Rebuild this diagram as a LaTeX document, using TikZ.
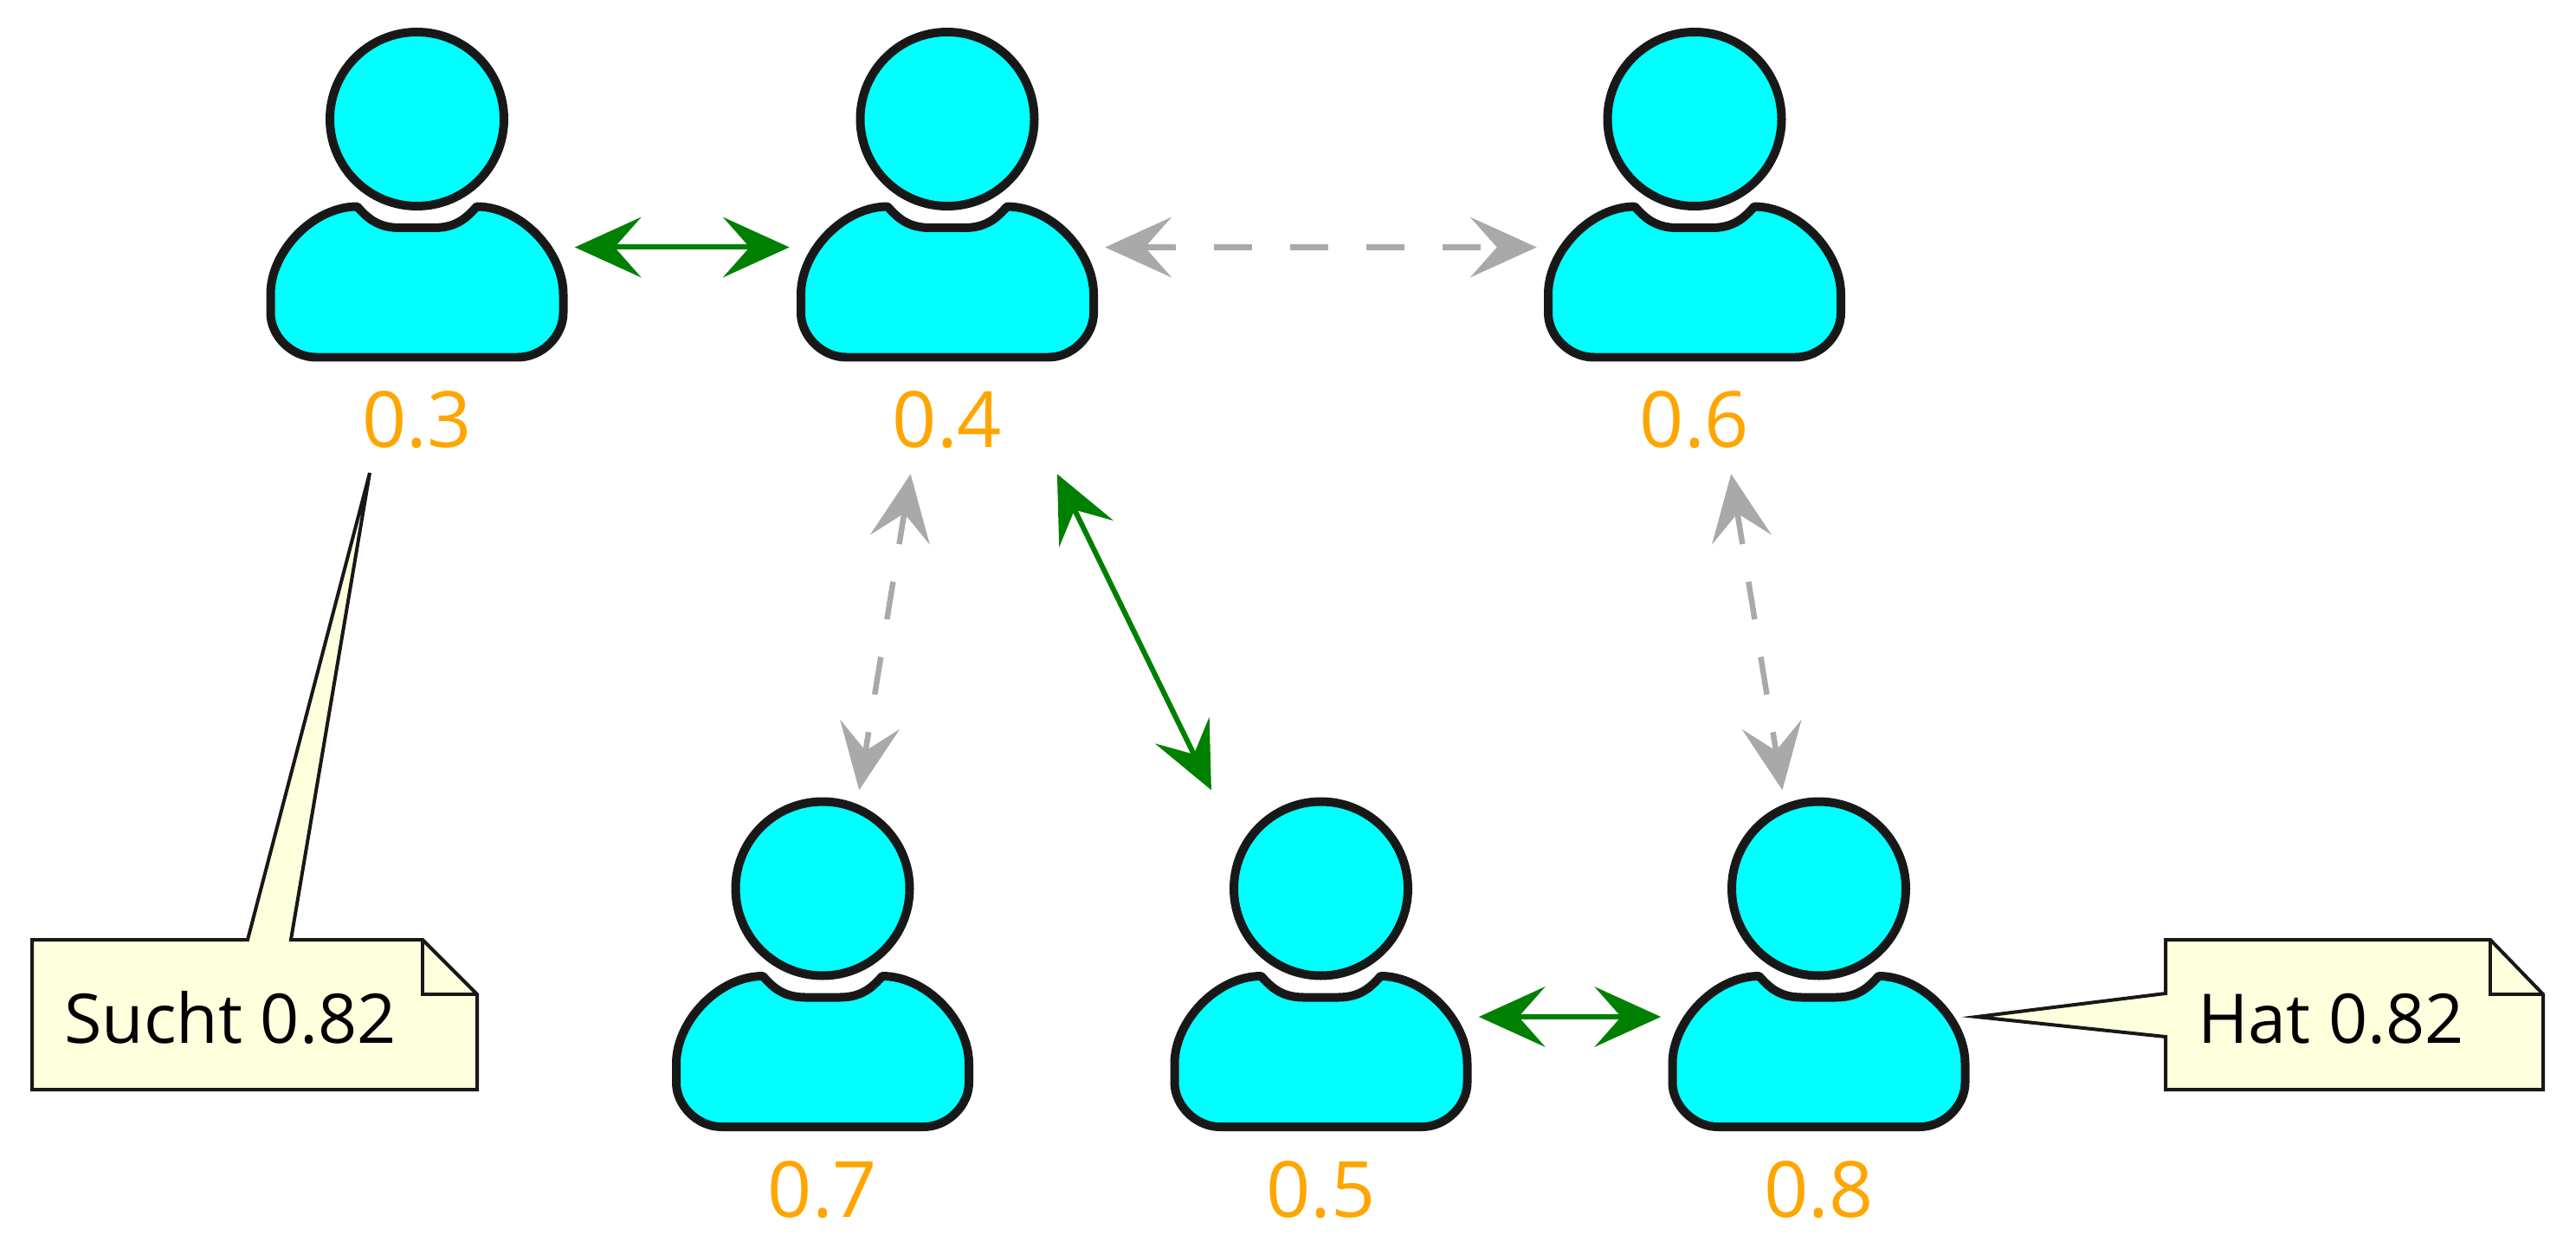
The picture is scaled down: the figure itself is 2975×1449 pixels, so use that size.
\documentclass[tikz,border=0pt]{standalone}
\usepackage{fontspec}
\setmainfont{Open Sans}
\usetikzlibrary{arrows.meta}
\definecolor{Ink}{HTML}{181818}
\definecolor{Skin}{HTML}{00FFFF}
\definecolor{Paper}{HTML}{FEFFDD}
\definecolor{Score}{HTML}{FFA500}
\definecolor{Link}{HTML}{008000}
\definecolor{Weak}{HTML}{A9A9A9}
\begin{document}
\begin{tikzpicture}[x=0.02cm,y=-0.02cm]
	\tikzstyle{Filling} = [fill=Skin,draw=Ink,line width=0.2cm,line join=round]
	\tikzstyle{Slot} = [inner sep=0pt,minimum width=7.28cm,minimum height=10.46cm]
	\tikzstyle{Value} = [text=Score,font=\fontsize{51}{51}\selectfont,anchor=base,inner sep=0pt]
	\tikzstyle{Tips} = [{Stealth[length=1.54cm,width=1.4cm,inset=0.62cm,line width=0pt]}-{Stealth[length=1.54cm,width=1.4cm,inset=0.62cm,line width=0pt]}]
	\tikzstyle{Strong} = [Tips,draw=Link,line width=0.12cm]
	\tikzstyle{Faint} = [Tips,draw=Weak,line width=0.13cm,dash pattern=on 0.88cm off 0.88cm,dash phase=0.16cm]
	\tikzstyle{Note} = [fill=Paper,draw=Ink,line width=0.08cm,line join=miter]
	\tikzstyle{NoteText} = [text=black,font=\fontsize{45}{45}\selectfont,anchor=base west,inner sep=0pt]
	\useasboundingbox (0,0) rectangle (2975,1449);
	\foreach \who/\cx/\cy/\val in {u3/481.5/285.5/0.3,u4/1094/285.5/0.4,u6/1957/285.5/0.6,u7/950/1174/0.7,u5/1525.5/1174/0.5,u8/2100.5/1174/0.8}{
		\node[Slot] (\who) at (\cx,\cy) {};
		\begin{scope}[shift={(\cx,\cy)}]
			\filldraw[Filling] (0,-148) circle (100.5);
			\filldraw[Filling] (-69,-47)..controls(-59,-36)
			and(-47,-22.5)..(-20,-22.5)--(20,-22.5)..controls(47,-22.5)
			and(59,-36)..(69,-47)..controls(120,-47)
			and(169,5)..(169,54)--(169,76)..controls(169,102)
			and(145,127)..(116.5,127)--(-116.5,127)..controls(-145,127)
			and(-169,102)..(-169,76)--(-169,54)..controls(-169,5)
			and(-120,-47)..(-69,-47)--cycle;
			\node[Value] (s\who) at (0,231) {\val};
		\end{scope}
	}
	\draw[Strong] (u3)--(u4);
	\draw[Faint] (u4)--(u6);
	\draw[Faint] (u4)--(u7);
	\draw[Strong] (u4)--(u5);
	\draw[Faint] (u6)--(u8);
	\draw[Strong] (u5)--(u8);
	\coordinate (t3) at (427,546);
	\coordinate (t8) at (u8.east);
	\filldraw[Note] (37,1085)--(286,1085)--(t3)--(336,1085)--(488,1085)--(551,1148)
	--(551,1258)--(37,1258)--cycle;
	\draw[Note,fill=none] (488,1085)--(488,1148)--(551,1148);
	\node[NoteText] (n3) at (74,1204) {Sucht 0.82};
	\filldraw[Note] (2501,1085)--(2876,1085)--(2937,1148)--(2937,1258)--(2501,1258)
	--(2501,1197)--(t8)--(2501,1147)--cycle;
	\draw[Note,fill=none] (2876,1085)--(2876,1148)--(2937,1148);
	\node[NoteText] (n8) at (2538,1204) {Hat 0.82};
\end{tikzpicture}
\end{document}
